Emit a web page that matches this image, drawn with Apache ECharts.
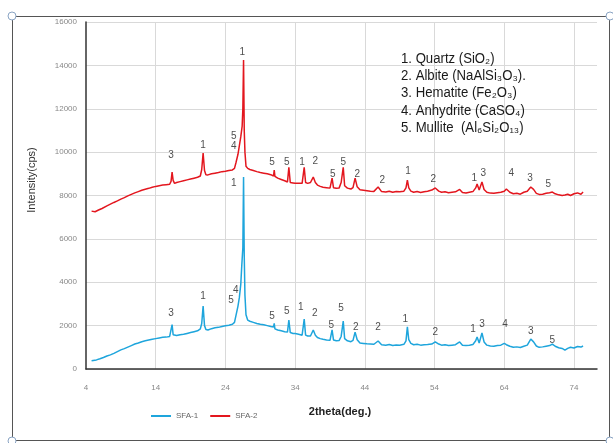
<!DOCTYPE html>
<html>
<head>
<meta charset="utf-8">
<script src="https://cdn.jsdelivr.net/npm/echarts@6/dist/echarts.min.js"></script>
<style>html,body{margin:0;padding:0;background:#fff}#c{width:613px;height:443px}</style>
</head>
<body>
<div id="c"></div>
<script>
// 2theta (deg.) vs intensity (cps)
const sfa1Points = [
[4.8,380],[5.5,420],[6,470],[6.5,530],[7,600],[7.5,650],[8,720],[8.5,800],[9,880],[9.5,940],[10,1010],[10.5,1080],[11,1150],[11.5,1200],[12,1260],[12.5,1300],[13,1340],[13.5,1370],[14,1400],[14.5,1430],[15,1460],[15.5,1470],[16,1500],[16.2,1560],[16.35,2050],[16.5,1580],[16.7,1520],[17,1540],[17.5,1580],[18,1600],[18.5,1640],[19,1680],[19.5,1720],[20,1760],[20.4,1850],[20.6,2100],[20.8,2900],[21.0,2000],[21.2,1820],[21.5,1800],[22,1860],[22.5,1900],[23,1920],[23.5,1960],[24,1990],[24.5,2020],[25,2060],[25.3,2150],[25.5,2450],[25.8,2900],[26.0,3300],[26.2,3900],[26.35,4800],[26.5,5600],[26.6,8850],[26.7,5200],[26.8,3400],[26.95,2500],[27.2,2250],[27.5,2200],[28,2150],[28.5,2100],[29,2060],[29.5,2040],[30,2000],[30.5,1960],[30.9,1940],[31.0,2100],[31.1,1850],[31.5,1800],[32,1760],[32.5,1720],[32.9,1700],[33.1,2260],[33.3,1680],[33.7,1640],[34,1640],[34.5,1600],[35,1560],[35.3,2300],[35.5,1560],[35.8,1520],[36.2,1520],[36.6,1800],[36.9,1560],[37.2,1450],[37.6,1400],[38,1370],[38.5,1340],[39,1320],[39.3,1800],[39.5,1340],[39.9,1300],[40.3,1310],[40.6,1500],[40.9,2210],[41.1,1400],[41.5,1300],[42,1260],[42.3,1320],[42.6,1700],[42.9,1350],[43.3,1200],[43.8,1180],[44.3,1160],[44.8,1150],[45.3,1140],[45.9,1290],[46.4,1120],[47,1100],[47.5,1130],[48,1080],[48.5,1110],[49,1100],[49.6,1140],[49.9,1300],[50.1,1940],[50.3,1350],[50.6,1180],[51,1120],[51.5,1140],[52,1100],[52.5,1120],[53,1130],[53.6,1150],[54.1,1250],[54.6,1150],[55,1100],[55.5,1120],[56,1080],[56.5,1100],[57,1120],[57.6,1250],[58,1100],[58.5,1080],[59,1100],[59.5,1130],[59.9,1300],[60.1,1475],[60.4,1200],[60.8,1660],[61.1,1250],[61.5,1100],[62,1060],[62.5,1050],[63,1080],[63.5,1100],[64,1180],[64.3,1120],[64.8,1050],[65.3,1000],[65.8,1020],[66.3,990],[66.8,1050],[67.3,1100],[67.8,1380],[68.2,1250],[68.6,1060],[69,1000],[69.5,1020],[70,1050],[70.5,1080],[70.9,1150],[71.3,1050],[71.8,980],[72.3,950],[72.7,875],[73.1,950],[73.5,1000],[74,970],[74.5,1040],[75,1010],[75.3,1060]
];
const sfa2Points = [
[4.8,7280],[5.3,7250],[5.8,7330],[6.3,7400],[7,7520],[7.5,7600],[8,7680],[8.5,7750],[9,7830],[9.5,7900],[10,7980],[10.5,8050],[11,8120],[11.5,8180],[12,8240],[12.5,8290],[13,8330],[13.5,8380],[14,8420],[14.5,8450],[15,8480],[15.5,8500],[16,8520],[16.2,8650],[16.35,9080],[16.5,8700],[16.7,8560],[17,8600],[17.5,8640],[18,8680],[18.5,8720],[19,8760],[19.5,8800],[20,8840],[20.4,8900],[20.6,9200],[20.8,9960],[21,9150],[21.2,8960],[21.5,8950],[22,9000],[22.5,9030],[23,9060],[23.5,9100],[24,9120],[24.5,9150],[25,9180],[25.3,9250],[25.5,9500],[25.8,9900],[26.0,10300],[26.2,10700],[26.4,11200],[26.5,12000],[26.6,14250],[26.7,11000],[26.8,10000],[26.95,9350],[27.2,9250],[27.5,9200],[28,9150],[28.5,9100],[29,9060],[29.5,9030],[30,9000],[30.5,8960],[30.9,8900],[31.0,9175],[31.1,8880],[31.5,8800],[32,8740],[32.5,8680],[32.9,8620],[33.1,9300],[33.3,8600],[33.7,8580],[34,8560],[34.5,8560],[35,8560],[35.3,9300],[35.5,8600],[35.8,8560],[36.2,8600],[36.6,8850],[36.9,8600],[37.2,8480],[37.6,8420],[38,8380],[38.5,8360],[39,8340],[39.3,8800],[39.5,8360],[39.9,8330],[40.3,8340],[40.6,8600],[40.9,9300],[41.1,8450],[41.5,8340],[42,8300],[42.3,8360],[42.6,8800],[42.9,8400],[43.3,8260],[43.8,8240],[44.3,8220],[44.8,8200],[45.3,8190],[45.9,8390],[46.4,8180],[47,8160],[47.5,8200],[48,8150],[48.5,8180],[49,8170],[49.6,8200],[49.9,8350],[50.1,8710],[50.3,8350],[50.6,8200],[51,8150],[51.5,8180],[52,8140],[52.5,8170],[53,8200],[53.6,8250],[54.1,8345],[54.6,8200],[55,8150],[55.5,8170],[56,8130],[56.5,8150],[57,8170],[57.6,8280],[58,8140],[58.5,8120],[59,8150],[59.5,8180],[59.9,8350],[60.1,8530],[60.4,8250],[60.8,8620],[61.1,8280],[61.5,8150],[62,8110],[62.5,8100],[63,8130],[63.5,8150],[64,8200],[64.3,8300],[64.8,8150],[65.3,8080],[65.8,8100],[66.3,8060],[66.8,8150],[67.3,8200],[67.8,8390],[68.2,8280],[68.6,8100],[69,8050],[69.5,8060],[70,8100],[70.5,8130],[70.9,8160],[71.3,8080],[71.8,8030],[72.3,8000],[72.7,8020],[73.1,8060],[73.5,8000],[74,8080],[74.5,8120],[75,8060],[75.3,8160]
];
// peak phase labels: [2theta, intensity position, phase number]
const sfa1Labels = [
[16.2,2580,'3'],[20.8,3370,'1'],[24.8,3180,'5'],[25.5,3640,'4'],[25.2,8580,'1'],[30.7,2440,'5'],[32.8,2670,'5'],[34.8,2860,'1'],[36.8,2580,'2'],[39.2,2030,'5'],[40.6,2810,'5'],[42.7,1940,'2'],[45.9,1940,'2'],[49.8,2300,'1'],[54.1,1700,'2'],[59.5,1840,'1'],[60.8,2070,'3'],[64.1,2070,'4'],[67.8,1750,'3'],[70.9,1340,'5']
];
const sfa2Labels = [
[16.2,9870,'3'],[20.8,10330,'1'],[25.2,10740,'5'],[25.2,10280,'4'],[26.4,14610,'1'],[30.7,9540,'5'],[32.8,9540,'5'],[35.0,9540,'1'],[36.9,9590,'2'],[39.4,8990,'5'],[40.9,9540,'5'],[42.9,8990,'2'],[46.5,8710,'2'],[50.2,9130,'1'],[53.8,8760,'2'],[59.7,8800,'1'],[61.0,9040,'3'],[65.0,9040,'4'],[67.7,8800,'3'],[70.3,8530,'5']
];
const phaseLines = [
'1. Quartz (SiO₂)',
'2. Albite (NaAlSi₃O₃).',
'3. Hematite (Fe₂O₃)',
'4. Anhydrite (CaSO₄)',
'5. Mullite  (Al₆Si₂O₁₃)'
];
const seriesNames = ['SFA-1','SFA-2'];
const xTicks = {min:4, max:77.3, interval:10};
const yTicks = {min:0, max:16000, interval:2000};

const chart = echarts.init(document.getElementById('c'), null, {renderer:'canvas'});
const labelSeries = (arr) => ({
  type:'scatter', data:arr, symbolSize:2, silent:true,
  itemStyle:{color:'rgba(0,0,0,0)'},
  label:{show:true, position:'inside', formatter:p=>p.value[2], color:'#222', fontSize:10, fontFamily:'Liberation Sans'},
  labelLayout:{hideOverlap:false},
  z:5
});
const graphics = [
  {type:'rect', shape:{x:12.5,y:16.5,width:597,height:424}, style:{fill:'none',stroke:'#555',lineWidth:1}, z:100}
];
[[12,16],[610,16],[12,441],[610,441]].forEach(([cx,cy])=>{
  graphics.push({type:'circle', shape:{cx:cx,cy:cy,r:4}, style:{fill:'#fff',stroke:'#8aa4c4',lineWidth:1}, z:101});
});
phaseLines.forEach((t,i)=>{
  graphics.push({type:'text', x:401, y:59+i*17.3, scaleX:0.94, style:{text:t, font:'14px "Liberation Sans", sans-serif', fill:'#1a1a1a', verticalAlign:'middle'}, z:50});
});
graphics.push({type:'text', x:32, y:180, rotation:Math.PI/2, style:{text:'Intensity(cps)', font:'11px "Liberation Sans", sans-serif', fill:'#333', align:'center', verticalAlign:'middle'}});
graphics.push({type:'text', x:340, y:412, style:{text:'2theta(deg.)', font:'bold 11px "Liberation Sans", sans-serif', fill:'#222', align:'center', verticalAlign:'middle'}});

chart.setOption({
  animation:false,
  backgroundColor:'#fff',
  grid:{left:86, top:22, right:16, bottom:74},
  legend:{
    data:seriesNames, left:146, top:407, icon:'rect', itemWidth:20, itemHeight:2, itemGap:12,
    textStyle:{fontSize:8, color:'#666', fontFamily:'Liberation Sans'}
  },
  xAxis:{
    type:'value', min:xTicks.min, max:xTicks.max, interval:xTicks.interval,
    axisLine:{show:true, onZero:false, lineStyle:{color:'#333', width:1.5}},
    axisTick:{show:false},
    axisLabel:{color:'#888', fontSize:8, margin:15, showMaxLabel:false, fontFamily:'Liberation Sans', formatter:v=>String(v)},
    splitLine:{show:true, showMinLine:false, showMaxLine:false, lineStyle:{color:'#d9d9d9', width:1}}
  },
  yAxis:{
    type:'value', min:yTicks.min, max:yTicks.max, interval:yTicks.interval,
    axisLine:{show:true, lineStyle:{color:'#333', width:1.5}},
    axisTick:{show:false},
    axisLabel:{color:'#888', fontSize:8, margin:9, fontFamily:'Liberation Sans', formatter:v=>String(v)},
    splitLine:{show:true, lineStyle:{color:'#d9d9d9', width:1}}
  },
  graphic:graphics,
  series:[
    {name:seriesNames[0], type:'line', data:sfa1Points, showSymbol:false, symbol:'none', lineStyle:{color:'#1ea5dc', width:1.5}, itemStyle:{color:'#1ea5dc'}, z:3},
    {name:seriesNames[1], type:'line', data:sfa2Points, showSymbol:false, symbol:'none', lineStyle:{color:'#e3161e', width:1.5}, itemStyle:{color:'#e3161e'}, z:3},
    labelSeries(sfa1Labels),
    labelSeries(sfa2Labels)
  ]
});
</script>
</body>
</html>
